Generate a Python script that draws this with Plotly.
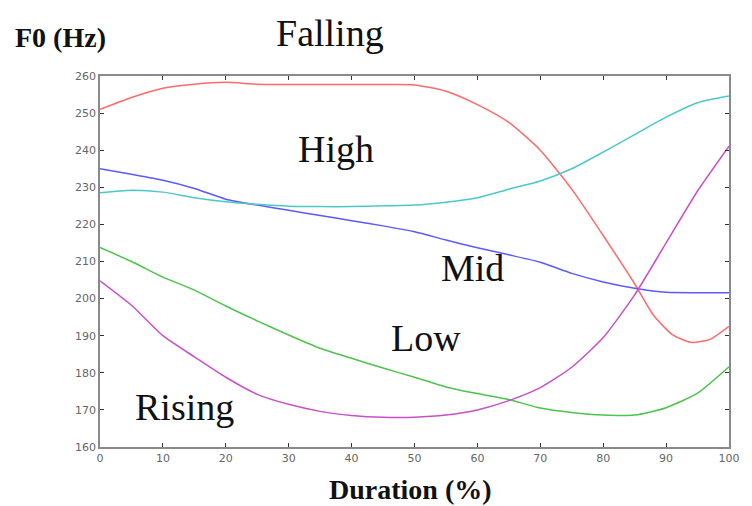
import plotly.graph_objects as go

duration = [0, 5, 10, 15, 20, 25, 30, 35, 40, 45, 50, 55, 60, 65, 70, 75, 80, 85, 90, 95, 100]
duration_falling = [0, 5, 10, 15, 20, 25, 30, 35, 40, 45, 50, 55, 60, 65, 70, 75, 80, 85,
                    88, 91, 94, 97, 100]

falling = [251.0, 254.2, 256.7, 257.8, 258.3, 257.8, 257.7, 257.7, 257.7, 257.7, 257.6,
           255.9, 252.3, 247.5, 240.0, 229.5, 217.0, 204.0, 195.5, 190.3, 188.2, 189.0, 192.5]
mid = [235.0, 233.5, 231.9, 229.7, 226.8, 225.2, 223.8, 222.4, 221.0, 219.6, 218.0,
       215.8, 213.7, 211.8, 209.8, 206.8, 204.5, 202.8, 201.7, 201.6, 201.6]
high = [228.5, 229.2, 228.7, 227.2, 226.1, 225.4, 224.9, 224.8, 224.8, 225.0, 225.2,
        226.0, 227.2, 229.5, 231.7, 235.0, 239.5, 244.2, 248.9, 252.8, 254.6]
low = [213.8, 210.0, 205.8, 202.3, 198.0, 194.0, 190.2, 186.6, 183.9, 181.3, 178.8,
       176.2, 174.4, 172.8, 170.5, 169.3, 168.6, 168.6, 170.6, 174.5, 181.6]
rising = [204.8, 198.2, 190.0, 184.3, 178.8, 174.2, 171.5, 169.6, 168.5, 168.0, 168.0,
          168.6, 170.0, 172.5, 176.0, 181.5, 189.5, 201.0, 215.0, 229.0, 241.1]

x_ticks = [0, 10, 20, 30, 40, 50, 60, 70, 80, 90, 100]
y_ticks = [160, 170, 180, 190, 200, 210, 220, 230, 240, 250, 260]

series = [
    ("Falling", duration_falling, falling, "#ff6a6a"),
    ("Mid", duration, mid, "#5a5aff"),
    ("High", duration, high, "#4cc8c8"),
    ("Low", duration, low, "#4cc44c"),
    ("Rising", duration, rising, "#c850c8"),
]

fig = go.Figure()
for name, xs, vals, col in series:
    fig.add_trace(go.Scatter(x=xs, y=vals, mode="lines", name=name,
                             line=dict(color=col, width=1.5, shape="spline", smoothing=0.6),
                             showlegend=False, hoverinfo="x+y"))

serif = "Liberation Serif"
tickfont = dict(family="DejaVu Sans", size=11, color="#666666")

axis_common = dict(showgrid=False, zeroline=False, showline=True, linecolor="#8a8a8a",
                   linewidth=1.5, mirror="ticks", ticks="inside", ticklen=4,
                   tickcolor="#333333", tickwidth=1, tickfont=tickfont)

fig.update_xaxes(range=[0, 100], tickvals=x_ticks, ticktext=[str(v) for v in x_ticks],
                 **axis_common)
fig.update_yaxes(range=[160, 260], tickvals=y_ticks, ticktext=[str(v) for v in y_ticks],
                 **axis_common)

def px2paper(px, py):
    return (px - 100) / 637.0, (447 - py) / 371.0

annots = []
for text, xv, yv in [("High", 37.5, 240.3), ("Mid", 59.2, 208.2), ("Low", 51.8, 189.3), ("Rising", 13.5, 170.7)]:
    annots.append(dict(text=text, x=xv, y=yv, xref="x", yref="y", showarrow=False,
                       font=dict(family=serif, size=38, color="#111111"),
                       xanchor="center", yanchor="middle"))

xp, yp = px2paper(333, 33)
annots.append(dict(text="Falling", x=xp, y=yp, xref="paper", yref="paper", showarrow=False,
                   font=dict(family=serif, size=38, color="#111111"),
                   xanchor="center", yanchor="middle"))
xp, yp = px2paper(60, 37)
annots.append(dict(text="<b>F0 (Hz)</b>", x=xp, y=yp, xref="paper", yref="paper", showarrow=False,
                   font=dict(family=serif, size=28, color="#111111"),
                   xanchor="center", yanchor="middle"))
xp, yp = px2paper(414, 489)
annots.append(dict(text="<b>Duration (%)</b>", x=xp, y=yp, xref="paper", yref="paper", showarrow=False,
                   font=dict(family=serif, size=28, color="#111111"),
                   xanchor="center", yanchor="middle"))

fig.update_layout(width=752, height=506, margin=dict(l=100, r=15, t=76, b=59),
                  plot_bgcolor="white", paper_bgcolor="white", annotations=annots)

fig.write_html("out.html")
